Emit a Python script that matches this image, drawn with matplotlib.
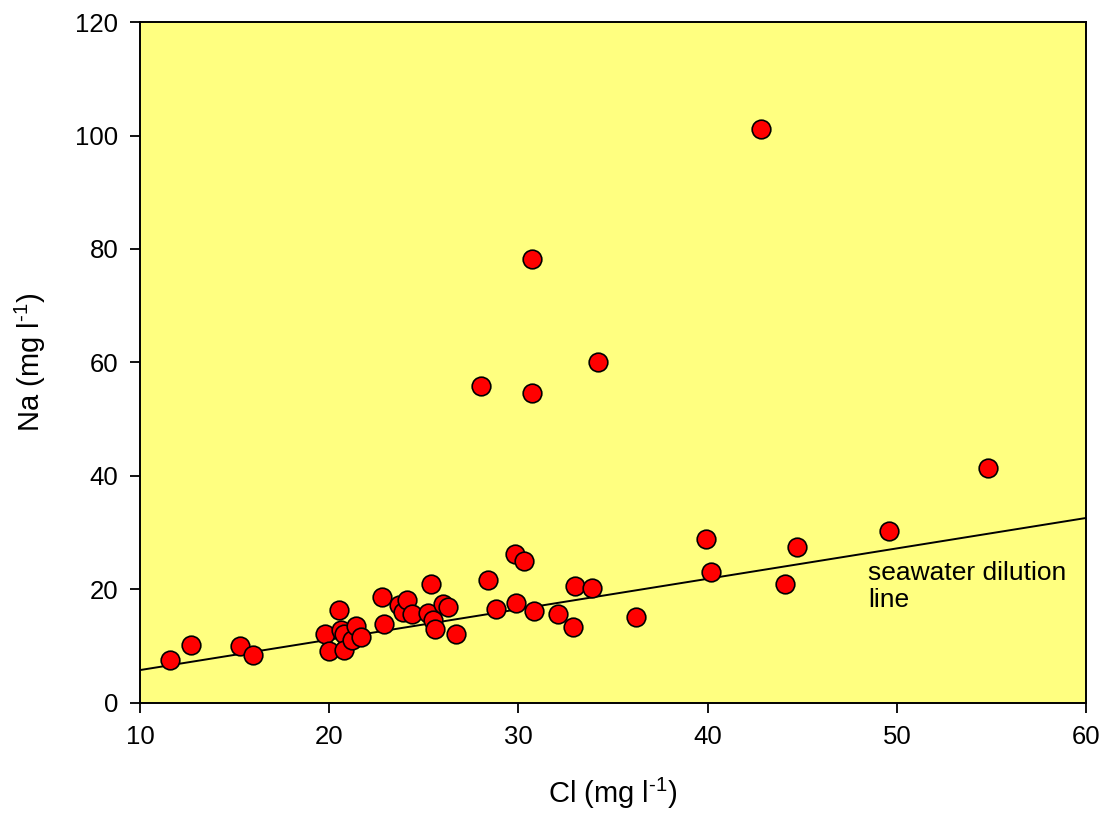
import numpy as np
import matplotlib
matplotlib.use("Agg")
from matplotlib import pyplot as plt

plt.rcParams['font.family'] = ['Liberation Sans', 'DejaVu Sans']
plt.rcParams['mathtext.fontset'] = 'custom'
plt.rcParams['mathtext.rm'] = 'Liberation Sans'

# chloride vs sodium concentrations (mg/l)
cl = [11.6, 12.7, 15.3, 16.0, 19.8, 20.0, 20.5, 20.6, 20.8, 20.8, 21.2, 21.4, 21.7,
      22.8, 22.9, 23.7, 23.9, 24.1, 24.4, 25.2, 25.4, 25.5, 25.6, 26.0, 26.3, 26.7,
      28.4, 28.8, 29.8, 29.9, 30.3, 30.8, 32.1, 32.9, 33.0, 33.9, 36.2,
      39.9, 40.2, 44.1, 44.7, 49.6, 42.8, 30.7, 28.0, 30.7, 34.2, 54.8]
na = [7.5, 10.3, 10.1, 8.4, 12.2, 9.1, 16.4, 12.8, 12.2, 9.4, 11.1, 13.6, 11.7,
      18.6, 13.9, 17.3, 16.0, 18.2, 15.6, 15.8, 20.9, 14.7, 13.0, 17.5, 16.9, 12.1,
      21.7, 16.6, 26.2, 17.6, 25.1, 16.2, 15.6, 13.4, 20.7, 20.2, 15.2,
      28.9, 23.1, 21.0, 27.4, 30.3, 101.1, 78.2, 55.9, 54.7, 60.1, 41.4]

# seawater dilution line end points
line_x = [10, 60]
line_y = [5.8, 32.6]

fig = plt.figure(figsize=(11.03, 8.18), dpi=100)
ax = fig.add_axes([0.1269, 0.1406, 0.8577, 0.8325])
ax.set_facecolor('#ffff80')

ax.plot(line_x, line_y, color='black', lw=1.4, zorder=2)
ax.scatter(cl, na, s=180, c='#ff0000', edgecolors='black', linewidths=1.2, zorder=3)

ax.text(48.5, 20.5, 'seawater dilution\nline', fontsize=19, va='center', ha='left',
        linespacing=1.15)

ax.set_xlim(10, 60)
ax.set_ylim(0, 120)
ax.set_xticks(np.arange(10, 61, 10))
ax.set_yticks(np.arange(0, 121, 20))
ax.tick_params(direction='out', length=7.5, width=1.3, labelsize=18.5, pad=8)
for s in ax.spines.values():
    s.set_linewidth(1.4)

ax.set_xlabel('Cl (mg l$^{\u20101}$)', fontsize=21, labelpad=20)
ax.set_ylabel('Na (mg l$^{\u20101}$)', fontsize=21, labelpad=20)

fig.savefig('out.png', dpi=100)
